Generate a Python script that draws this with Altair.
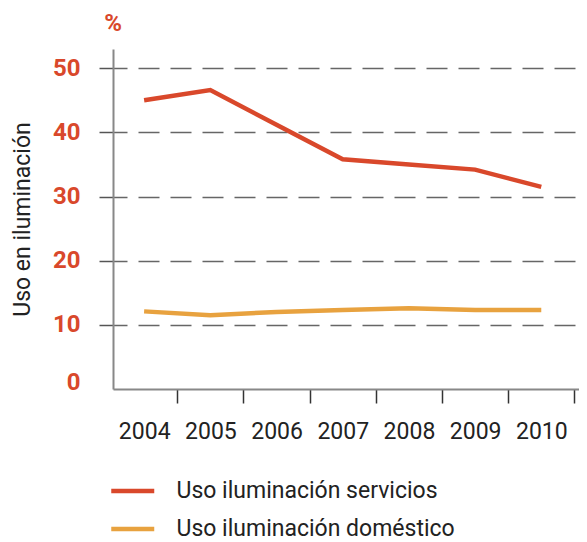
import altair as alt
import pandas as pd

years = [2004, 2005, 2006, 2007, 2008, 2009, 2010]
servicios = [45.0, 46.6, 41.2, 35.8, 35.0, 34.2, 31.5]
domestico = [12.1, 11.5, 12.0, 12.3, 12.6, 12.3, 12.3]
series_names = ["Uso iluminación servicios", "Uso iluminación doméstico"]
series_colors = ["#d9482b", "#e8a23f"]
tick_years = [2004.5, 2005.5, 2006.5, 2007.5, 2008.5, 2009.5, 2010.5]
y_ticks = [0, 10, 20, 30, 40, 50]

rows = []
for y, v in zip(years, servicios):
    rows.append({"year": y, "value": v, "serie": series_names[0]})
for y, v in zip(years, domestico):
    rows.append({"year": y, "value": v, "serie": series_names[1]})
df = pd.DataFrame(rows)

FONT = "Roboto"
RED = "#d9482b"

chart = alt.Chart(df).mark_line(strokeWidth=4.5).encode(
    x=alt.X(
        "year:Q",
        scale=alt.Scale(domain=[2003.53, 2010.57], nice=False, zero=False),
        axis=alt.Axis(
            title=None,
            values=tick_years,
            labelExpr="floor(datum.value)",
            labelOffset=-33,
            labelFlush=False,
            labelFont=FONT,
            labelFontSize=23,
            labelColor="#222222",
            labelPadding=17,
            tickSize=14,
            tickColor="#333333",
            tickWidth=1.5,
            domainColor="#888888",
            domainWidth=2,
            grid=False,
        ),
    ),
    y=alt.Y(
        "value:Q",
        scale=alt.Scale(domain=[0, 53], nice=False),
        axis=alt.Axis(
            title="Uso en iluminación",
            titleFont=FONT,
            titleFontSize=23,
            titleFontWeight="normal",
            titleColor="#222222",
            titlePadding=18,
            values=y_ticks,
            labelFont=FONT,
            labelFontSize=24,
            labelFontWeight="bold",
            labelColor=RED,
            labelPadding=19,
            labelFlush=True,
            labelFlushOffset=5,
            tickSize=14,
            tickWidth=1.5,
            tickColor={"condition": {"test": "datum.value === 0", "value": "transparent"}, "value": "#555555"},
            grid=True,
            gridDash=[21, 11],
            gridDashOffset=7,
            gridWidth=1.5,
            gridColor={"condition": {"test": "datum.value === 0", "value": "transparent"}, "value": "#666666"},
            domainColor="#888888",
            domainWidth=2,
        ),
    ),
    color=alt.Color(
        "serie:N",
        scale=alt.Scale(domain=series_names, range=series_colors),
        sort=series_names,
        legend=alt.Legend(
            title=None,
            orient="none",
            legendX=6.75,
            legendY=429,
            direction="vertical",
            symbolType="M-2,0H2",
            symbolSize=462,
            symbolStrokeWidth=4.5,
            labelFont=FONT,
            labelFontSize=23,
            labelColor="#222222",
            labelOffset=30.75,
            labelLimit=0,
            rowPadding=13,
            padding=0,
        ),
    ),
).properties(
    width=466,
    height=340,
    title=alt.TitleParams(
        text="%",
        anchor="start",
        align="center",
        frame="group",
        font=FONT,
        fontSize=24,
        fontWeight="bold",
        color=RED,
        offset=13,
    ),
    autosize=alt.AutoSizeParams(type="none"),
    padding={"left": 105, "top": 41, "right": 0, "bottom": 153},
).configure_view(stroke=None)

chart.save("out.html", embed_options={"renderer": "svg", "actions": False})
